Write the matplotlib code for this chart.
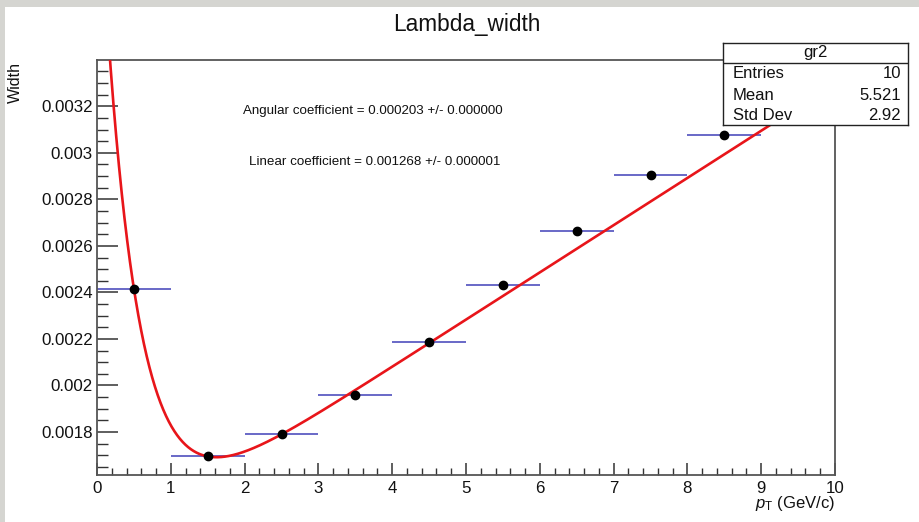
import numpy as np
import matplotlib
matplotlib.use("Agg")
import matplotlib.pyplot as plt
from matplotlib.ticker import MultipleLocator, FuncFormatter
from matplotlib.patches import Rectangle

plt.rcParams['font.family'] = ['Liberation Sans', 'DejaVu Sans']
plt.rcParams['mathtext.fontset'] = 'custom'
plt.rcParams['mathtext.rm'] = 'Liberation Sans'
plt.rcParams['mathtext.it'] = 'Liberation Sans:italic'

# ---- data ----
pt_centers = [0.5, 1.5, 2.5, 3.5, 4.5, 5.5, 6.5, 7.5, 8.5, 9.5]
pt_halfwidth = [0.5, 0.5, 0.5, 0.5, 0.5, 0.5, 0.5, 0.5, 0.5, 0.5]
widths = [0.002416, 0.001698, 0.001793, 0.001961, 0.002188,
          0.002433, 0.002663, 0.002905, 0.003077, 0.003250]

# fit parameters (pol1 + exponential term)
fit_linear = 0.001268
fit_angular = 0.000203
fit_exp_amp = 0.00306
fit_exp_slope = 2.146

title = "Lambda_width"
stats_name = "gr2"
stats_rows = [("Entries", "10"), ("Mean", "5.521"), ("Std Dev", "2.92")]
ann_texts = ["Angular coefficient = 0.000203 +/- 0.000000",
             "Linear coefficient = 0.001268 +/- 0.000001"]

W, H = 920, 522
fig = plt.figure(figsize=(W / 100, H / 100), dpi=100)
fig.patch.set_facecolor('white')

# gray window border strips
fig.patches.append(Rectangle((0, 1 - 7 / H), 1, 7 / H, transform=fig.transFigure,
                             facecolor='#d5d5d1', edgecolor='none', zorder=0))
fig.patches.append(Rectangle((0, 0), 5 / W, 1, transform=fig.transFigure,
                             facecolor='#d5d5d1', edgecolor='none', zorder=0))

L, R, T, B = 97, 835, 60, 475
ax = fig.add_axes([L / W, 1 - B / H, (R - L) / W, (B - T) / H])
ax.set_xlim(0, 10)
ax.set_ylim(0.001615, 0.0033992)

# fit curve
xf = np.linspace(0.01, 10, 800)
yf = fit_linear + fit_angular * xf + fit_exp_amp * np.exp(-fit_exp_slope * xf)
ax.plot(xf, yf, color='#e8151a', lw=1.9, zorder=3)

# data points with x errors
ax.errorbar(pt_centers, widths, xerr=pt_halfwidth, fmt='none', ecolor='#4040b8',
            elinewidth=1.1, capsize=0, zorder=2)
ax.plot(pt_centers, widths, 'o', color='black', ms=6, zorder=4)

# axes styling (ROOT-like)
for s in ax.spines.values():
    s.set_color('#555555')
    s.set_linewidth(1.3)
ax.xaxis.set_major_locator(MultipleLocator(1))
ax.xaxis.set_minor_locator(MultipleLocator(0.2))
ax.yaxis.set_major_locator(MultipleLocator(0.0002))
ax.yaxis.set_minor_locator(MultipleLocator(0.00005))
ax.yaxis.set_major_formatter(FuncFormatter(lambda v, p: '{:g}'.format(round(v, 6))))
ax.xaxis.set_major_formatter(FuncFormatter(lambda v, p: '{:g}'.format(round(v, 6))))
ax.tick_params(axis='both', which='both', direction='in', color='#333333',
               top=False, right=False, labelsize=12.2, labelcolor='#111111')
ax.tick_params(axis='x', which='major', length=9, width=1.1, pad=4)
ax.tick_params(axis='x', which='minor', length=5, width=1.0)
ax.tick_params(axis='y', which='major', length=15, width=1.1, pad=3)
ax.tick_params(axis='y', which='minor', length=8, width=1.0)

# title and axis labels
fig.text(467 / W, 1 - 31.5 / H, title, ha='center', va='baseline', fontsize=16.3,
         color='#111111')
fig.text(15 / W, 1 - 62 / H, 'Width', rotation=90, ha='center', va='top',
         fontsize=11.5, color='#111111')
fig.text(835 / W, 1 - 508 / H, r'$p_{\mathrm{T}}$ (GeV/c)', ha='right',
         va='baseline', fontsize=12, color='#111111')

# fit annotations
fig.text(373 / W, 1 - 111 / H, ann_texts[0], ha='center', va='center',
         fontsize=9.6, color='#111111')
fig.text(375 / W, 1 - 162 / H, ann_texts[1], ha='center', va='center',
         fontsize=9.6, color='#111111')

# stats box
bx0, bx1, by0, by1 = 723, 908, 43, 125
bax = fig.add_axes([bx0 / W, 1 - by1 / H, (bx1 - bx0) / W, (by1 - by0) / H], zorder=5)
bax.set_xlim(0, 1)
bax.set_ylim(0, 1)
bax.set_xticks([])
bax.set_yticks([])
bax.set_facecolor('white')
for s in bax.spines.values():
    s.set_color('#222222')
    s.set_linewidth(1.0)
hy = (by1 - 63) / (by1 - by0)
bax.axhline(hy, color='#222222', lw=1.0)
bax.text(0.5, (by1 - 53) / (by1 - by0), stats_name, ha='center', va='center',
         fontsize=12, color='#111111')
row_y = [74, 95, 115]
for (lab, val), yy in zip(stats_rows, row_y):
    yf_ = (by1 - yy) / (by1 - by0)
    bax.text(0.054, yf_, lab, ha='left', va='center', fontsize=12, color='#111111')
    bax.text(0.962, yf_, val, ha='right', va='center', fontsize=12, color='#111111')

fig.savefig('out.png', dpi=100)
